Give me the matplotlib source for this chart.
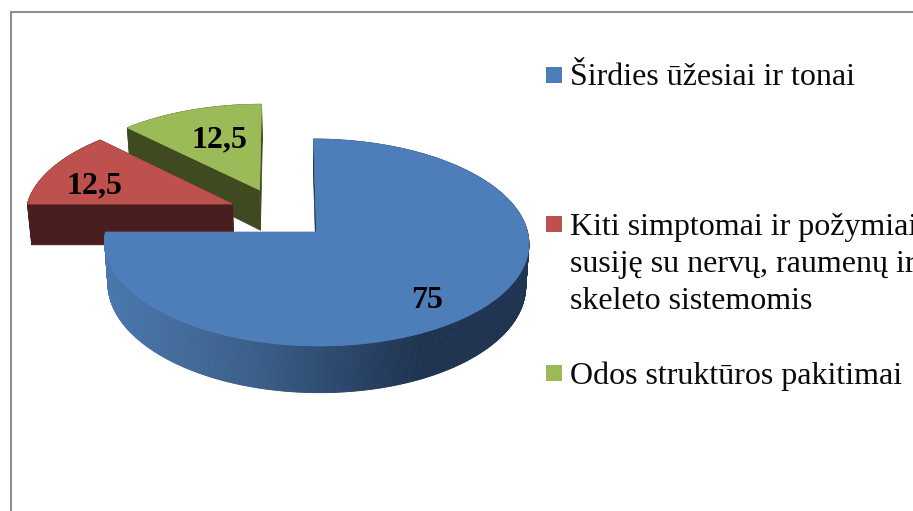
import numpy as np
import matplotlib
matplotlib.use("Agg")
import matplotlib.pyplot as plt
from matplotlib.colors import to_rgb
from matplotlib.patches import Rectangle

# ---- data ----
categories = ["Širdies ūžesiai ir tonai",
              "Kiti simptomai ir požymiai\nsusiję su nervų, raumenų ir\nskeleto sistemomis",
              "Odos struktūros pakitimai"]
values = [75, 12.5, 12.5]
value_labels = ["75", "12,5", "12,5"]

# ---- style ----
top_colors = ["#4E7EBA", "#BE504D", "#9BBB59"]
side_colors = ["#1F3450", "#4A1E1E", "#3F4A20"]
explode = [(0.0, 0.0), (-0.405, 0.281), (-0.275, 0.428)]
label_pos = [(427, 301), (94, 186), (219, 140)]
legend_y = [85, 235, 384]
square_y = [67, 216, 365]
X0, Y0, RX, RY, K, SHEAR, DEPTH = 316.5, 232.0, 211.0, 102.4, 0.1014, 3.0, 42.0
grad_x = [106, 250, 320, 420, 530]
grad_c = ["#4A78AD", "#3B5F8A", "#2F4D73", "#1E3350", "#1F3551"]
FONT = "Liberation Serif"
PT = 23.0

fig = plt.figure(figsize=(9.13, 5.11), dpi=100, facecolor="white")
ax = fig.add_axes([0, 0, 1, 1])
ax.set_xlim(0, 913)
ax.set_ylim(511, 0)
ax.axis("off")


def project(u, v, bottom=False):
    u, v = np.asarray(u, float), np.asarray(v, float)
    d = 1 + K * v
    x = RX * u / d - SHEAR * v
    y = -RY * v / d
    if bottom:
        x = x * 0.985
        y = y + DEPTH / d
    return X0 + x, Y0 + y


def blue_side_color(x):
    stops = np.array([to_rgb(c) for c in grad_c])
    return [np.interp(x, grad_x, stops[:, i]) for i in range(3)]


# angles follow from the values: the first slice starts at 12 o'clock, clockwise
start = 90.0
spans = []
for val in values:
    sweep = 360.0 * val / sum(values)
    spans.append((start, start - sweep))
    start -= sweep

# paint back slices first
for i in [2, 1, 0]:
    a0, a1 = np.radians(spans[i])
    t = np.linspace(a0, a1, int(abs(np.degrees(a1 - a0))) * 2 + 2)
    du, dv = explode[i]
    u, v = du + np.cos(t), dv + np.sin(t)
    xt, yt = project(u, v)
    xb, yb = project(u, v, bottom=True)
    # outer rim
    for j in range(len(t) - 1):
        col = blue_side_color(0.5 * (xt[j] + xt[j + 1])) if i == 0 else side_colors[i]
        ax.fill([xt[j], xt[j + 1], xb[j + 1], xb[j]],
                [yt[j], yt[j + 1], yb[j + 1], yb[j]],
                facecolor=col, edgecolor=col, lw=0.6, zorder=2 + (2 - i) * 3)
    # cut faces (the large slice only shows the one at 12 o'clock)
    cx_t, cy_t = project(du, dv)
    cx_b, cy_b = project(du, dv, bottom=True)
    for k in ([0] if i == 0 else [0, -1]):
        ax.fill([cx_t, xt[k], xb[k], cx_b], [cy_t, yt[k], yb[k], cy_b],
                facecolor=side_colors[i], edgecolor=side_colors[i], lw=0.5,
                zorder=3 + (2 - i) * 3)
    # top face
    ax.fill(np.r_[cx_t, xt], np.r_[cy_t, yt], facecolor=top_colors[i],
            edgecolor=top_colors[i], lw=0.5, zorder=4 + (2 - i) * 3)

for txt, (lx, ly) in zip(value_labels, label_pos):
    ax.text(lx, ly, txt, family=FONT, fontsize=PT, fontweight="bold", color="black",
            ha="center", va="center", zorder=20)

# legend
for cat, col, by, sy in zip(categories, top_colors, legend_y, square_y):
    ax.add_patch(Rectangle((546, sy), 16, 16, facecolor=col, edgecolor="none", zorder=20))
    for n, line in enumerate(cat.split("\n")):
        ax.text(570, by + n * 37, line, family=FONT, fontsize=PT, color="#0A0A0A",
                ha="left", va="baseline", zorder=20)

# chart frame (only the left and top edges fall inside the picture)
ax.plot([11, 11, 913], [511, 12, 12], color="#8E8E8E", lw=1.5, solid_joinstyle="miter", zorder=1)

fig.savefig("out.png", dpi=100, facecolor="white")
